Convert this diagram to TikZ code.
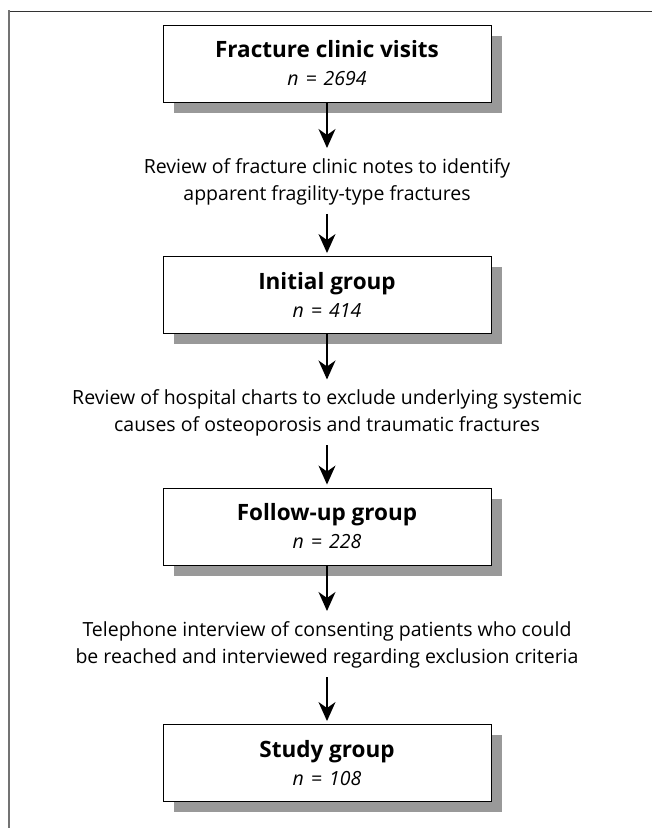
\documentclass[tikz,border=0pt]{standalone}
\usepackage{fontspec}
\setmainfont{Open Sans}
\usetikzlibrary{positioning,shadows,arrows.meta}

\tikzset{
  groupbox/.style={draw, line width=0.9pt, fill=white, minimum width=328pt,
    minimum height=77pt, align=center, font=\fontsize{22.5}{28}\selectfont,
    drop shadow={shadow xshift=11pt, shadow yshift=-11pt, fill=black!40, opacity=1}},
  stepnote/.style={align=center, inner sep=0pt, font=\fontsize{19.5}{27}\selectfont},
  flowarrow/.style={-{Stealth[length=19pt,width=17pt,inset=6pt]}, line width=1.3pt}
}
\newcommand{\grouptext}[2]{\textbf{#1}\\{\fontsize{19.5}{28}\selectfont\itshape n\hspace{7pt}=\hspace{7pt}#2}}

\begin{document}
\begin{tikzpicture}[x=1pt,y=1pt,node distance=118pt,on grid]
  \useasboundingbox (0,0) rectangle (652,828);
  % frame
  \draw[line width=1pt,black!80] (8,816.5) -- (652,816.5);
  \draw[line width=2pt,black!55] (8.5,817.5) -- (8.5,0);

  \node[groupbox] (visits) at (327,764.5) {\grouptext{Fracture clinic visits}{2694}};
  \node[stepnote, below=of visits] (notes) {Review of fracture clinic notes to identify\\apparent fragility-type fractures};
  \node[groupbox, below=113.5pt of notes] (initial) {\grouptext{Initial group}{414}};
  \node[stepnote, below=of initial] (charts) {Review of hospital charts to exclude underlying systemic\\causes of osteoporosis and traumatic fractures};
  \node[groupbox, below=113.5pt of charts] (followup) {\grouptext{Follow-up group}{228}};
  \node[stepnote, below=of followup] (phone) {Telephone interview of consenting patients who could\\be reached and interviewed regarding exclusion criteria};
  \node[groupbox, below=118.5pt of phone] (study) {\grouptext{Study group}{108}};

  % arrows
  \foreach \a/\b in {visits/notes, initial/charts, followup/phone}
    {\draw[flowarrow, shorten >=10pt] (\a.south) -- (\b.north);}
  \foreach \a/\b in {notes/initial, charts/followup, phone/study}
    {\draw[flowarrow, shorten <=9pt, shorten >=3pt] (\a.south) -- (\b.north);}
\end{tikzpicture}
\end{document}
